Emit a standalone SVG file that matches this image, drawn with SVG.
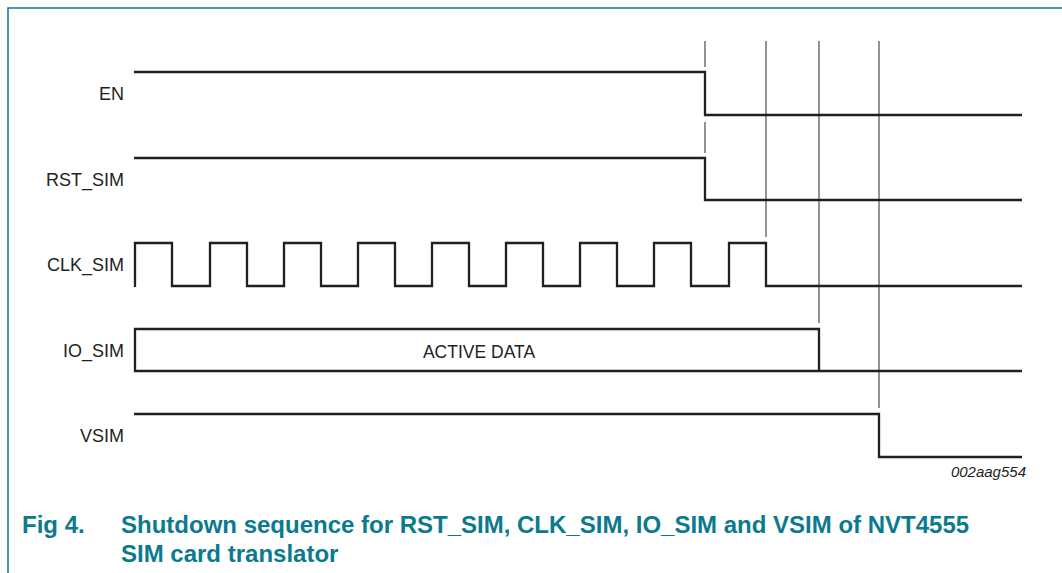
<svg xmlns="http://www.w3.org/2000/svg" width="1062" height="573" viewBox="0 0 1062 573">
  <style>
    .sig { fill: none; stroke: #231f20; stroke-width: 2.3; stroke-linejoin: miter; stroke-linecap: butt; }
    .guide { fill: none; stroke: #3a3a3a; stroke-width: 1.1; }
    .lbl { font-family: "Liberation Sans", Arial, sans-serif; font-size: 18px; fill: #231f20; text-anchor: end; }
    .data { font-family: "Liberation Sans", Arial, sans-serif; font-size: 17.5px; fill: #231f20; text-anchor: middle; }
    .ref { font-family: "Liberation Sans", Arial, sans-serif; font-size: 15px; font-style: italic; fill: #231f20; text-anchor: end; }
    .cap { font-family: "Liberation Sans", Arial, sans-serif; font-size: 24px; font-weight: bold; fill: #0b7a8e; }
    .frame { fill: none; stroke: #0b7a8e; stroke-width: 1.5; }
  </style>
  <rect x="0" y="0" width="1062" height="573" fill="#ffffff"/>
  <path class="frame" d="M8,573 V8 H1062"/>

  <g id="connectors">
    <line class="guide" x1="705" y1="41" x2="705" y2="67"/>
    <line class="guide" x1="705" y1="122" x2="705" y2="153"/>
    <line class="guide" x1="766" y1="41" x2="766" y2="237"/>
    <line class="guide" x1="819" y1="41" x2="819" y2="323"/>
    <line class="guide" x1="879" y1="41" x2="879" y2="408"/>
  </g>

  <g id="EN">
    <text class="lbl" x="124" y="100">EN</text>
    <path class="sig" d="M134,72 H705 V115 H1022"/>
  </g>
  <g id="RST_SIM">
    <text class="lbl" x="124" y="185.5">RST_SIM</text>
    <path class="sig" d="M134,158 H705 V200 H1022"/>
  </g>
  <g id="CLK_SIM">
    <text class="lbl" x="124" y="271">CLK_SIM</text>
    <path class="sig" d="M135,287 V243 H172 V286 H210 V243 H247 V286 H284 V243 H321 V286 H358 V243 H395 V286 H432 V243 H469 V286 H506 V243 H543 V286 H580 V243 H617 V286 H654 V243 H691 V286 H729 V243 H766 V286 H1022"/>
  </g>
  <g id="IO_SIM">
    <text class="lbl" x="124" y="356.5">IO_SIM</text>
    <path class="sig" d="M1022,371 H135 V329 H819 V371"/>
    <text class="data" x="479" y="357.5">ACTIVE DATA</text>
  </g>
  <g id="VSIM">
    <text class="lbl" x="124" y="442">VSIM</text>
    <path class="sig" d="M134,414 H879 V457 H1022"/>
  </g>

  <text class="ref" x="1026" y="477">002aag554</text>

  <g id="caption">
    <text class="cap" x="22" y="533">Fig 4.</text>
    <text class="cap" x="121" y="533">Shutdown sequence for RST_SIM, CLK_SIM, IO_SIM and VSIM of NVT4555</text>
    <text class="cap" x="121" y="562">SIM card translator</text>
  </g>
</svg>
